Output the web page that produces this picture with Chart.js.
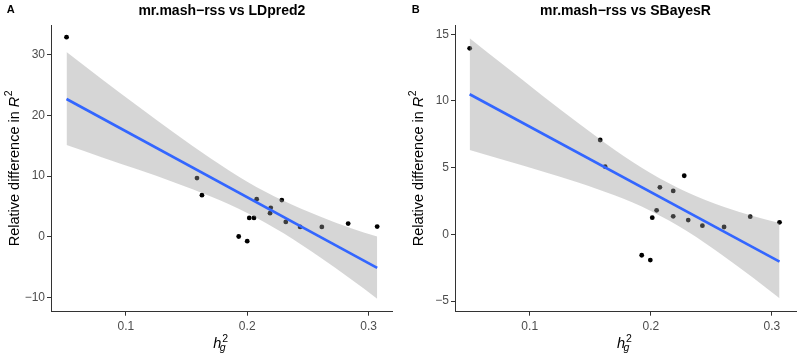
<!DOCTYPE html>
<html><head><meta charset="utf-8">
<script src="https://cdn.jsdelivr.net/npm/chart.js@4.4.1/dist/chart.umd.min.js"></script>
<style>
html,body{margin:0;padding:0;background:#fff;}
#wrap{position:relative;width:800px;height:357px;background:#fff;}
canvas{position:absolute;top:0;}
</style></head><body>
<div id="wrap">
<canvas id="cA" width="400" height="357" style="left:0;width:400px;height:357px"></canvas>
<canvas id="cB" width="400" height="357" style="left:400px;width:400px;height:357px"></canvas>
</div>
<script>
// ---- text ----
const panelLabels = ['A', 'B'];
const panelTitles = ['mr.mash\u2212rss vs LDpred2', 'mr.mash\u2212rss vs SBayesR'];
const yTitleText = 'Relative difference in ';
const yTitleVar = 'R';
const xTitleVar = 'h';
const xTitleSub = 'g';
const titleSup = '2';

// ---- ticks ----
const xTicks = [0.1, 0.2, 0.3];
const yTicksA = [-10, 0, 10, 20, 30];
const yTicksB = [-5, 0, 5, 10, 15];

// ---- panel A data (mr.mash-rss vs LDpred2) ----
const hgA = [0.0511, 0.1586, 0.1627, 0.1930, 0.2000, 0.2017, 0.2056, 0.2078, 0.2188, 0.2194, 0.2285, 0.2318, 0.2436, 0.2615, 0.2832, 0.3071];
const relDiffA = [32.85, 9.67, 6.87, 0.07, -0.7, 3.13, 3.13, 6.2, 3.9, 4.78, 6.05, 2.47, 1.65, 1.65, 2.2, 1.7];
const fitXA = [0.0511, 0.3071];
const fitYA = [22.68, -5.1];
const bandXA = [0.0511, 0.08, 0.11, 0.14, 0.17, 0.2, 0.23, 0.26, 0.285, 0.3071];
const bandUpperA = [30.4, 25.96, 21.5, 17.1, 12.9, 9.09, 5.93, 3.36, 1.48, 0.05];
const bandLowerA = [15.1, 13.12, 11.08, 8.96, 6.64, 3.95, 0.59, -3.36, -6.9, -10.15];

// ---- panel B data (mr.mash-rss vs SBayesR) ----
const hgB = [0.0504, 0.1582, 0.1623, 0.1925, 0.1996, 0.2012, 0.2048, 0.2075, 0.2185, 0.2185, 0.2276, 0.2309, 0.2426, 0.2605, 0.2821, 0.3063];
const relDiffB = [13.94, 7.07, 5.07, -1.57, -1.93, 1.25, 1.8, 3.52, 3.25, 1.35, 4.39, 1.07, 0.65, 0.55, 1.32, 0.9];
const fitXB = [0.0504, 0.3063];
const fitYB = [10.5, -2.05];
const bandXB = [0.0504, 0.08, 0.11, 0.14, 0.17, 0.2, 0.23, 0.26, 0.285, 0.3063];
const bandUpperB = [14.69, 12.57, 10.43, 8.34, 6.34, 4.57, 3.15, 2.06, 1.35, 0.85];
const bandLowerB = [6.32, 5.53, 4.73, 3.88, 2.92, 1.75, 0.23, -1.62, -3.3, -4.8];

const FAM = '"Liberation Sans", Arial, Helvetica, sans-serif';

function fmt(v) {
  const a = Math.abs(v);
  const s = Math.abs(a - Math.round(a)) < 1e-9 ? String(Math.round(a)) : a.toFixed(1);
  return (v < 0 ? '\u2212' : '') + s;
}

function toPts(xs, ys) { return xs.map((x, i) => ({ x: x, y: ys[i] })); }

function textPlugin(p) {
  return {
    id: 'txt' + p.label,
    afterDraw(chart) {
      const ctx = chart.ctx, ca = chart.chartArea;
      const cx = (ca.left + ca.right) / 2;
      const cy = (ca.top + ca.bottom) / 2;
      ctx.save();
      ctx.fillStyle = '#000';
      ctx.textBaseline = 'alphabetic';
      // panel label
      ctx.textAlign = 'left';
      ctx.font = 'bold 11px ' + FAM;
      ctx.fillText(p.label, p.labelX, 13);
      // title
      ctx.textAlign = 'center';
      ctx.font = 'bold 14px ' + FAM;
      ctx.fillText(p.title, cx, 15.3);
      // x title: h_g^2
      ctx.textAlign = 'left';
      ctx.font = 'italic 14.5px ' + FAM;
      ctx.fillText(xTitleVar, cx - 8.6, 348.3);
      ctx.font = 'italic 10.5px ' + FAM;
      ctx.fillText(xTitleSub, cx - 2.0, 351.2);
      ctx.font = '10.5px ' + FAM;
      ctx.fillText(titleSup, cx + 0.4, 341.7);
      // y title
      ctx.save();
      ctx.translate(p.yTitleX, cy);
      ctx.rotate(-Math.PI / 2);
      ctx.font = '14.5px ' + FAM;
      const w1 = ctx.measureText(yTitleText).width;
      ctx.font = 'italic 14.5px ' + FAM;
      const wR = ctx.measureText(yTitleVar).width;
      ctx.font = '10.5px ' + FAM;
      const w2 = ctx.measureText(titleSup).width;
      let x0 = -(w1 + wR + w2 + 0.5) / 2;
      ctx.font = '14.5px ' + FAM;
      ctx.fillText(yTitleText, x0, 0);
      ctx.font = 'italic 14.5px ' + FAM;
      ctx.fillText(yTitleVar, x0 + w1, 0);
      ctx.font = '10.5px ' + FAM;
      ctx.fillText(titleSup, x0 + w1 + wR + 0.5, -6.5);
      ctx.restore();
      ctx.restore();
    }
  };
}

function makeChart(id, p) {
  const axisCol = '#333333';
  new Chart(document.getElementById(id), {
    type: 'line',
    data: {
      datasets: [
        { data: toPts(p.fitX, p.fitY), borderColor: '#3366FF', borderWidth: 2.6, pointRadius: 0, fill: false, order: 0, tension: 0 },
        { data: toPts(p.bandX, p.bandUp), borderColor: 'rgba(0,0,0,0)', borderWidth: 0, pointRadius: 0,
          fill: '+1', backgroundColor: 'rgba(153,153,153,0.4)', order: 1, cubicInterpolationMode: 'monotone' },
        { data: toPts(p.bandX, p.bandLo), borderColor: 'rgba(0,0,0,0)', borderWidth: 0, pointRadius: 0,
          fill: false, order: 1, cubicInterpolationMode: 'monotone' },
        { data: toPts(p.x, p.y), showLine: false, pointRadius: 2.4, pointBackgroundColor: '#000',
          pointBorderColor: '#000', pointBorderWidth: 0, order: 2 }
      ]
    },
    options: {
      responsive: false,
      animation: false,
      devicePixelRatio: 1,
      layout: { padding: { top: 25, right: p.padRight, bottom: 0, left: 0 } },
      plugins: { legend: { display: false }, tooltip: { enabled: false }, title: { display: false } },
      scales: {
        x: {
          type: 'linear', position: 'bottom', min: 0.0383, max: 0.3199,
          afterBuildTicks: s => { s.ticks = xTicks.map(v => ({ value: v })); },
          afterFit: s => { s.height = 45.3; },
          grid: { drawOnChartArea: false, drawTicks: true, tickLength: 4, color: axisCol, lineWidth: 1 },
          border: { display: true, color: axisCol, width: 1 },
          ticks: { color: '#4D4D4D', font: { family: FAM, size: 12 }, padding: 3.5, autoSkip: false, maxRotation: 0,
                   callback: v => fmt(v) }
        },
        y: {
          type: 'linear', position: 'left', min: p.yMin, max: p.yMax,
          afterBuildTicks: s => { s.ticks = p.yTicks.map(v => ({ value: v })); },
          afterFit: s => { s.width = p.yWidth; },
          grid: { drawOnChartArea: false, drawTicks: true, tickLength: 4, color: axisCol, lineWidth: 1 },
          border: { display: true, color: axisCol, width: 1 },
          ticks: { color: '#4D4D4D', font: { family: FAM, size: 12 }, padding: 2, autoSkip: false,
                   callback: v => fmt(v) }
        }
      }
    },
    plugins: [textPlugin(p)]
  });
}

makeChart('cA', {
  label: panelLabels[0], title: panelTitles[0], labelX: 6.7, yTitleX: 18.5,
  x: hgA, y: relDiffA, fitX: fitXA, fitY: fitYA, bandX: bandXA, bandUp: bandUpperA, bandLo: bandLowerA,
  yMin: -12.3, yMax: 34.85, yTicks: yTicksA, yWidth: 51, padRight: 7.3
});
makeChart('cB', {
  label: panelLabels[1], title: panelTitles[1], labelX: 11.7, yTitleX: 22.5,
  x: hgB, y: relDiffB, fitX: fitXB, fitY: fitYB, bandX: bandXB, bandUp: bandUpperB, bandLo: bandLowerB,
  yMin: -5.8, yMax: 15.69, yTicks: yTicksB, yWidth: 55, padRight: 2.7
});
</script>
</body></html>
